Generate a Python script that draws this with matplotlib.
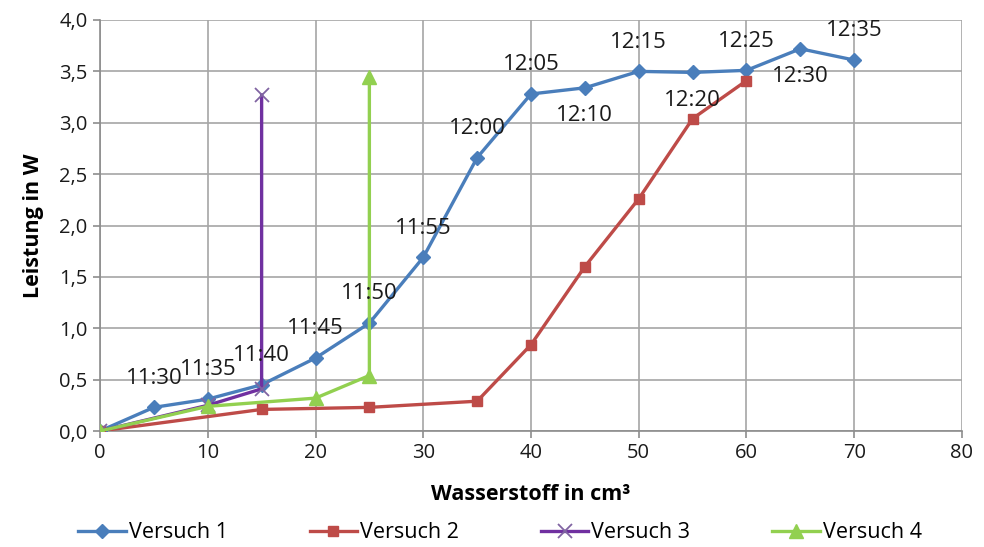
import matplotlib
matplotlib.use("Agg")
import matplotlib.pyplot as plt
from matplotlib.ticker import FuncFormatter, MultipleLocator

plt.rcParams['font.family'] = ['Open Sans', 'DejaVu Sans']

x1 = [0, 5, 10, 15, 20, 25, 30, 35, 40, 45, 50, 55, 60, 65, 70]
y1 = [0.0, 0.23, 0.31, 0.45, 0.71, 1.05, 1.69, 2.66, 3.28, 3.34, 3.50, 3.49, 3.51, 3.72, 3.61]
labels1 = ["", "11:30", "11:35", "11:40", "11:45", "11:50", "11:55", "12:00",
           "12:05", "12:10", "12:15", "12:20", "12:25", "12:30", "12:35"]
label_below = ["12:10", "12:20", "12:30"]

x2 = [0, 15, 25, 35, 40, 45, 50, 55, 60]
y2 = [0.0, 0.21, 0.23, 0.29, 0.84, 1.60, 2.26, 3.04, 3.41]

x3 = [0, 10, 15, 15]
y3 = [0.0, 0.25, 0.41, 3.27]

x4 = [0, 10, 20, 25, 25]
y4 = [0.0, 0.24, 0.32, 0.54, 3.45]

c1, c2, c3, c4 = '#4a7ebb', '#be4b48', '#7030a0', '#92d050'

fig = plt.figure(figsize=(9.84, 5.47), dpi=100)
ax = fig.add_axes([100/984, 1-431/547, 862/984, 411/547])

ax.plot(x1, y1, color=c1, lw=2.4, marker='D', ms=7.5, label='Versuch 1', zorder=3)
ax.plot(x2, y2, color=c2, lw=2.4, marker='s', ms=7.5, label='Versuch 2', zorder=3)
ax.plot(x3, y3, color=c3, lw=2.4, marker='x', ms=10, mew=1.3, mec='#8064a2', label='Versuch 3', zorder=4)
ax.plot(x4, y4, color=c4, lw=2.4, marker='^', ms=10, label='Versuch 4', zorder=5)

for xi, yi, lab in zip(x1, y1, labels1):
    if not lab:
        continue
    dy = -20 if lab in label_below else 21
    ax.annotate(lab, (xi, yi), xytext=(0, dy), textcoords='offset points',
                ha='center', va='center', fontsize=16, color='#1a1a1a', zorder=6)

ax.set_xlim(0, 80)
ax.set_ylim(0, 4.0)
ax.xaxis.set_major_locator(MultipleLocator(10))
ax.yaxis.set_major_locator(MultipleLocator(0.5))
ax.yaxis.set_major_formatter(FuncFormatter(lambda v, p: f"{v:.1f}".replace('.', ',')))
ax.grid(True, color='#a6a6a6', lw=1.2)
ax.set_axisbelow(True)
for s in ['top', 'right']:
    ax.spines[s].set_visible(False)
for s in ['left', 'bottom']:
    ax.spines[s].set_color('#8c8c8c')
    ax.spines[s].set_linewidth(1.2)
ax.tick_params(axis='both', labelsize=14.5, color='#8c8c8c', length=5, width=1.2,
               labelcolor='#1a1a1a', pad=4)
ax.set_xlabel('Wasserstoff in cm³', fontsize=15.5, fontweight='bold', labelpad=15)
ax.set_ylabel('Leistung in W', fontsize=15.5, fontweight='bold', labelpad=11)

fig.legend(loc='center', bbox_to_anchor=(0.5 + 8/984, 1-533/547), ncol=4, frameon=False,
           fontsize=15.5, handlelength=2.2, columnspacing=3.8, handletextpad=0.15)

fig.savefig('out.png', dpi=100)
